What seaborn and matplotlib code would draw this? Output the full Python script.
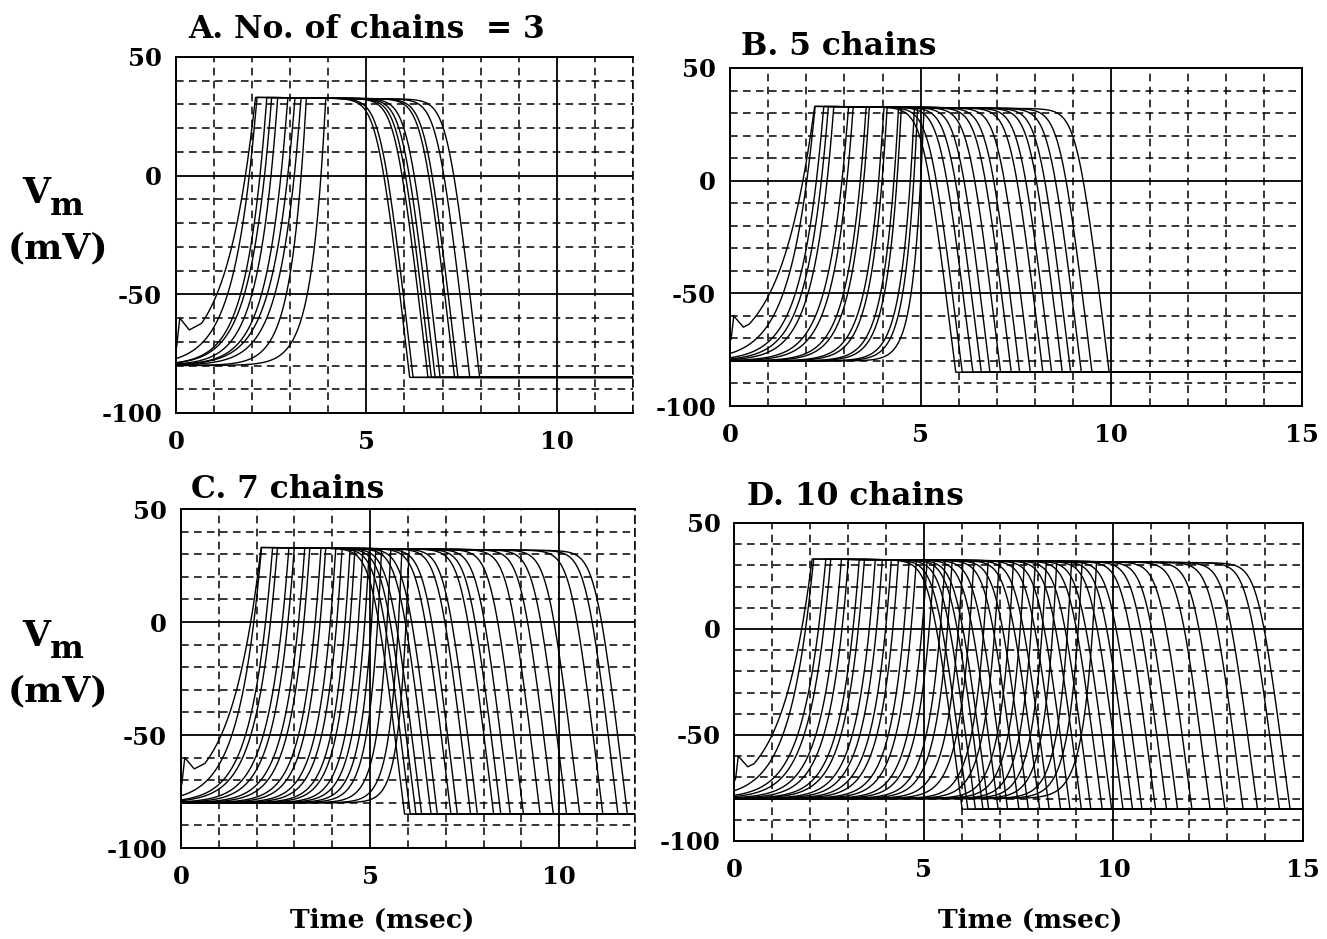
import numpy as np
import pandas as pd
import matplotlib
matplotlib.use("Agg")
import matplotlib.pyplot as plt
from matplotlib.ticker import MultipleLocator
import seaborn as sns

# panel titles and time range (msec)
titles = ["A. No. of chains  = 3", "B. 5 chains", "C. 7 chains", "D. 10 chains"]
x_max = [12, 15, 12, 15]

# time (msec) where each trace crosses -50 mV and 0 mV
# on the upstroke, and 0 mV on the downstroke
a_up50 = [1.08, 1.36, 1.70, 1.80, 2.00, 2.25, 2.40, 2.60, 2.90, 3.45]
a_up0 = [1.83, 1.93, 2.21, 2.33, 2.50, 2.76, 2.94, 3.11, 3.29, 3.81]
a_down0 = [5.53, 5.62, 6.01, 6.10, 6.20, 6.33, 6.71, 6.80, 7.11, 7.37]

b_up50 = [1.05, 1.40, 1.72, 1.88, 2.05, 2.45, 2.60, 2.98, 3.09, 3.50, 3.61, 3.95, 4.05, 4.42, 4.53, 4.75]
b_up0 = [1.92, 2.02, 2.27, 2.40, 2.55, 2.94, 3.07, 3.42, 3.51, 3.90, 3.99, 4.30, 4.38, 4.73, 4.82, 5.00]
b_down0 = [5.31, 5.48, 5.76, 5.98, 6.21, 6.49, 6.77, 6.99, 7.27, 7.60, 7.83, 8.11, 8.33, 8.61, 8.89, 9.34]

c_up50 = [1.07, 1.35, 1.71, 1.85, 2.18, 2.35, 2.64, 2.80, 3.11, 3.26, 3.54,
          3.72, 3.96, 4.10, 4.34, 4.52, 4.72, 4.90, 5.17, 5.49, 5.72]
c_up0 = [1.85, 1.93, 2.24, 2.37, 2.68, 2.83, 3.11, 3.25, 3.55, 3.68, 3.95,
         4.12, 4.34, 4.47, 4.69, 4.86, 5.04, 5.20, 5.45, 5.75, 5.95]
c_down0 = [5.30, 5.45, 5.60, 5.75, 6.00, 6.17, 6.53, 6.70, 7.05, 7.23, 7.66,
           7.85, 8.10, 8.45, 8.89, 9.24, 9.59, 9.94, 10.55, 10.95, 11.20]

d_up50 = [1.00, 1.28, 1.67, 1.84, 2.15, 2.36, 2.66, 2.81, 3.11, 3.31,
          3.56, 3.76, 4.06, 4.26, 4.56, 4.76, 5.06, 5.26, 5.56, 5.86,
          6.25, 6.54, 6.93, 7.22, 7.52, 7.81, 8.10, 8.49, 8.77, 9.15]
d_up0 = [1.78, 1.88, 2.22, 2.36, 2.65, 2.84, 3.13, 3.27, 3.56, 3.75,
         3.99, 4.18, 4.47, 4.66, 4.95, 5.14, 5.43, 5.62, 5.91, 6.20,
         6.58, 6.87, 7.25, 7.54, 7.83, 8.12, 8.40, 8.79, 9.07, 9.45]
d_down0 = [5.40, 5.55, 5.75, 5.95, 6.10, 6.35, 6.60, 6.90, 7.15, 7.45,
           7.70, 8.00, 8.25, 8.55, 8.80, 9.10, 9.35, 9.65, 9.90, 10.15,
           10.51, 10.80, 11.09, 11.47, 11.95, 12.34, 12.82, 13.20, 13.78, 14.06]

# resting levels and plateau (mV)
rest_before = -80
rest_after = -85
plateau_t = [2, 14]
plateau_v = [33, 31]
# stimulated cell: start of the first trace
stim_t = [0, 0.1, 0.35, 0.7]
stim_v = [-75, -60, -65, -62]

FALL_RATE = 140.0   # mV/msec on the downstroke
FALL_SOFT = 0.2     # msec, rounding of the shoulder

panels = [(a_up50, a_up0, a_down0), (b_up50, b_up0, b_down0),
          (c_up50, c_up0, c_down0), (d_up50, d_up0, d_down0)]


def make_trace(t, up50, up0, down0):
    top = 32.0
    l0 = np.log((0 - rest_before) / (top - rest_before))
    l50 = np.log((-50 - rest_before) / (top - rest_before))
    tau = (up0 - up50) / (l0 - l50)
    tpk = up0 - l0 * tau
    plat = np.interp(t, plateau_t, plateau_v)
    r = np.minimum(np.exp((t - tpk) / tau), 1.0)
    v_up = rest_before + (plat - rest_before) * r
    t_lin = down0 - top / FALL_RATE
    drop = FALL_RATE * FALL_SOFT * np.logaddexp(0, (t - t_lin) / FALL_SOFT)
    v = np.minimum(v_up, plat - drop)
    return np.maximum(v, rest_after)


sns.set_style("white")
plt.rcParams['font.family'] = ['DejaVu Serif']
plt.rcParams['font.weight'] = 'bold'
plt.rcParams['axes.unicode_minus'] = False
plt.rcParams['text.color'] = 'black'
plt.rcParams['xtick.color'] = 'black'
plt.rcParams['ytick.color'] = 'black'
plt.rcParams['axes.labelcolor'] = 'black'

W, H = 1327, 939
fig = plt.figure(figsize=(W / 100, H / 100), dpi=100)

rects = [[0.1326, 0.5602, 0.3444, 0.3791],
         [0.5501, 0.5676, 0.4311, 0.3600],
         [0.1364, 0.0969, 0.3421, 0.3610],
         [0.5535, 0.1044, 0.4284, 0.3387]]

for i, (up50, up0, down0) in enumerate(panels):
    ax = fig.add_axes(rects[i])
    t = np.arange(0, x_max[i] + 0.005, 0.01)
    rows = []
    for k in range(len(up0)):
        v = make_trace(t, up50[k], up0[k], down0[k])
        if k == 0:
            v = np.maximum(v, np.interp(t, stim_t, stim_v, right=-200))
        rows.append(pd.DataFrame({'t': t, 'v': v, 'trace': k}))
    df = pd.concat(rows, ignore_index=True)
    sns.lineplot(data=df, x='t', y='v', units='trace', estimator=None,
                 color='black', linewidth=1.0, legend=False, ax=ax)

    ax.set_xlim(0, x_max[i])
    ax.set_ylim(-100, 50)
    ax.xaxis.set_major_locator(MultipleLocator(5))
    ax.xaxis.set_minor_locator(MultipleLocator(1))
    ax.yaxis.set_major_locator(MultipleLocator(50))
    ax.yaxis.set_minor_locator(MultipleLocator(10))
    ax.grid(which='major', color='black', lw=1.3, ls='-')
    ax.grid(which='minor', color='black', lw=1.1, ls=(0, (5, 3.5)))
    ax.set_axisbelow(True)
    ax.set_xlabel('')
    ax.set_ylabel('')
    for s in ax.spines.values():
        s.set_color('black')
        s.set_linewidth(1.4)
    if x_max[i] % 5 != 0:
        ax.spines['right'].set_linestyle((0, (5, 3.5)))
        ax.spines['right'].set_linewidth(1.1)
    ax.tick_params(which='major', length=4, width=1.2, labelsize=17.5, pad=6,
                   color='black', labelcolor='black')
    ax.tick_params(which='minor', length=3, width=1.0, color='black')
    ax.tick_params(axis='x', which='major', pad=8)

# titles
title_pos = [(188, 38), (741, 55), (191, 498), (747, 505)]
for (x, y), s in zip(title_pos, titles):
    fig.text(x / W, 1 - y / H, s, fontsize=22.5, fontweight='bold',
             color='black', ha='left', va='baseline')

# y labels
for dy in [0, 443]:
    fig.text(22 / W, 1 - (203 + dy) / H, 'V', fontsize=26, fontweight='bold',
             color='black', ha='left', va='baseline')
    fig.text(50 / W, 1 - (215 + dy) / H, 'm', fontsize=23, fontweight='bold',
             color='black', ha='left', va='baseline')
    fig.text(58 / W, 1 - (258 + dy) / H, '(mV)', fontsize=26, fontweight='bold',
             color='black', ha='center', va='baseline')

# x labels
for cx in [382, 1030]:
    fig.text(cx / W, 1 - 928 / H, 'Time (msec)', fontsize=19, fontweight='bold',
             color='black', ha='center', va='baseline')

fig.savefig('out.png', dpi=100, facecolor='white')
